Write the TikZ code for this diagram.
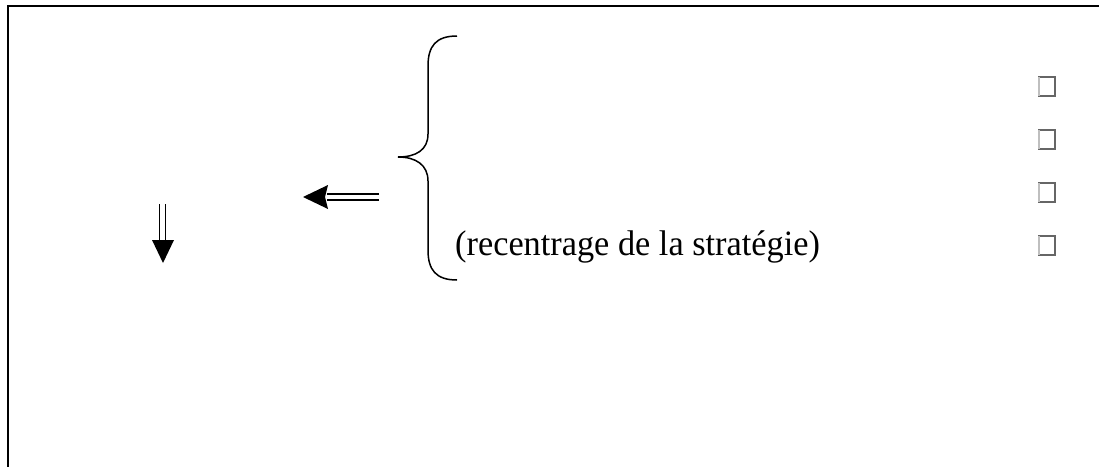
\documentclass[tikz,border=0pt]{standalone}
\usepackage{fontspec}
\setmainfont{Liberation Serif}
\begin{document}
\begin{tikzpicture}[x=1pt,y=-1pt,
  frame/.style={line width=2.3pt,line cap=rect},
  bracestyle/.style={line width=1.5pt},
  shaft/.style={line width=1.8pt},
  headfill/.style={fill=black},
  tofu/.style={draw=black!60,line width=1.2pt,fill=none},
  label/.style={font=\fontsize{34.3}{40}\selectfont,inner sep=0pt,anchor=base west,yscale=1.04}]
\useasboundingbox (0,0) rectangle (1099,466);
% frame
\draw[frame] (8,466) -- (8,6) -- (1099,6);
% brace
\draw[bracestyle] (457,36) .. controls (436,36) and (428,46) .. (428,66)
  -- (428,134) .. controls (428,150) and (416,157) .. (398,157)
  .. controls (416,157) and (428,165) .. (428,181)
  -- (428,250) .. controls (428,270) and (436,280) .. (457,280);
% text
\node[label] (txt) at (455,255) {(recentrage de la stratégie)};
% left double arrow
\coordinate (la1) at (379,194);
\coordinate (la2) at (327,194);
\coordinate (lb1) at (379,200);
\coordinate (lb2) at (327,200);
\draw[shaft] (la1) -- (la2);
\draw[shaft] (lb1) -- (lb2);
\coordinate (lt) at (303,197);
\fill[headfill] (lt) -- (328,185) -- (325,197) -- (328,209) -- cycle;
% down double arrow
\coordinate (da1) at (159.5,204);
\coordinate (da2) at (159.5,241);
\coordinate (db1) at (165.5,204);
\coordinate (db2) at (165.5,241);
\draw[shaft] (da1) -- (da2);
\draw[shaft] (db1) -- (db2);
\coordinate (dt) at (163,263);
\fill[headfill] (dt) -- (152,240) -- (174,240) -- cycle;
% missing-glyph boxes
\foreach \yy/\nm in {77/b1,130/b2,183/b3,236/b4}{
  \draw[tofu] (1039,\yy) rectangle (1055,\yy+19);
  \draw[black!25,line width=1.2pt] (1039,\yy) -- (1039,\yy+19);
}
\end{tikzpicture}
\end{document}
